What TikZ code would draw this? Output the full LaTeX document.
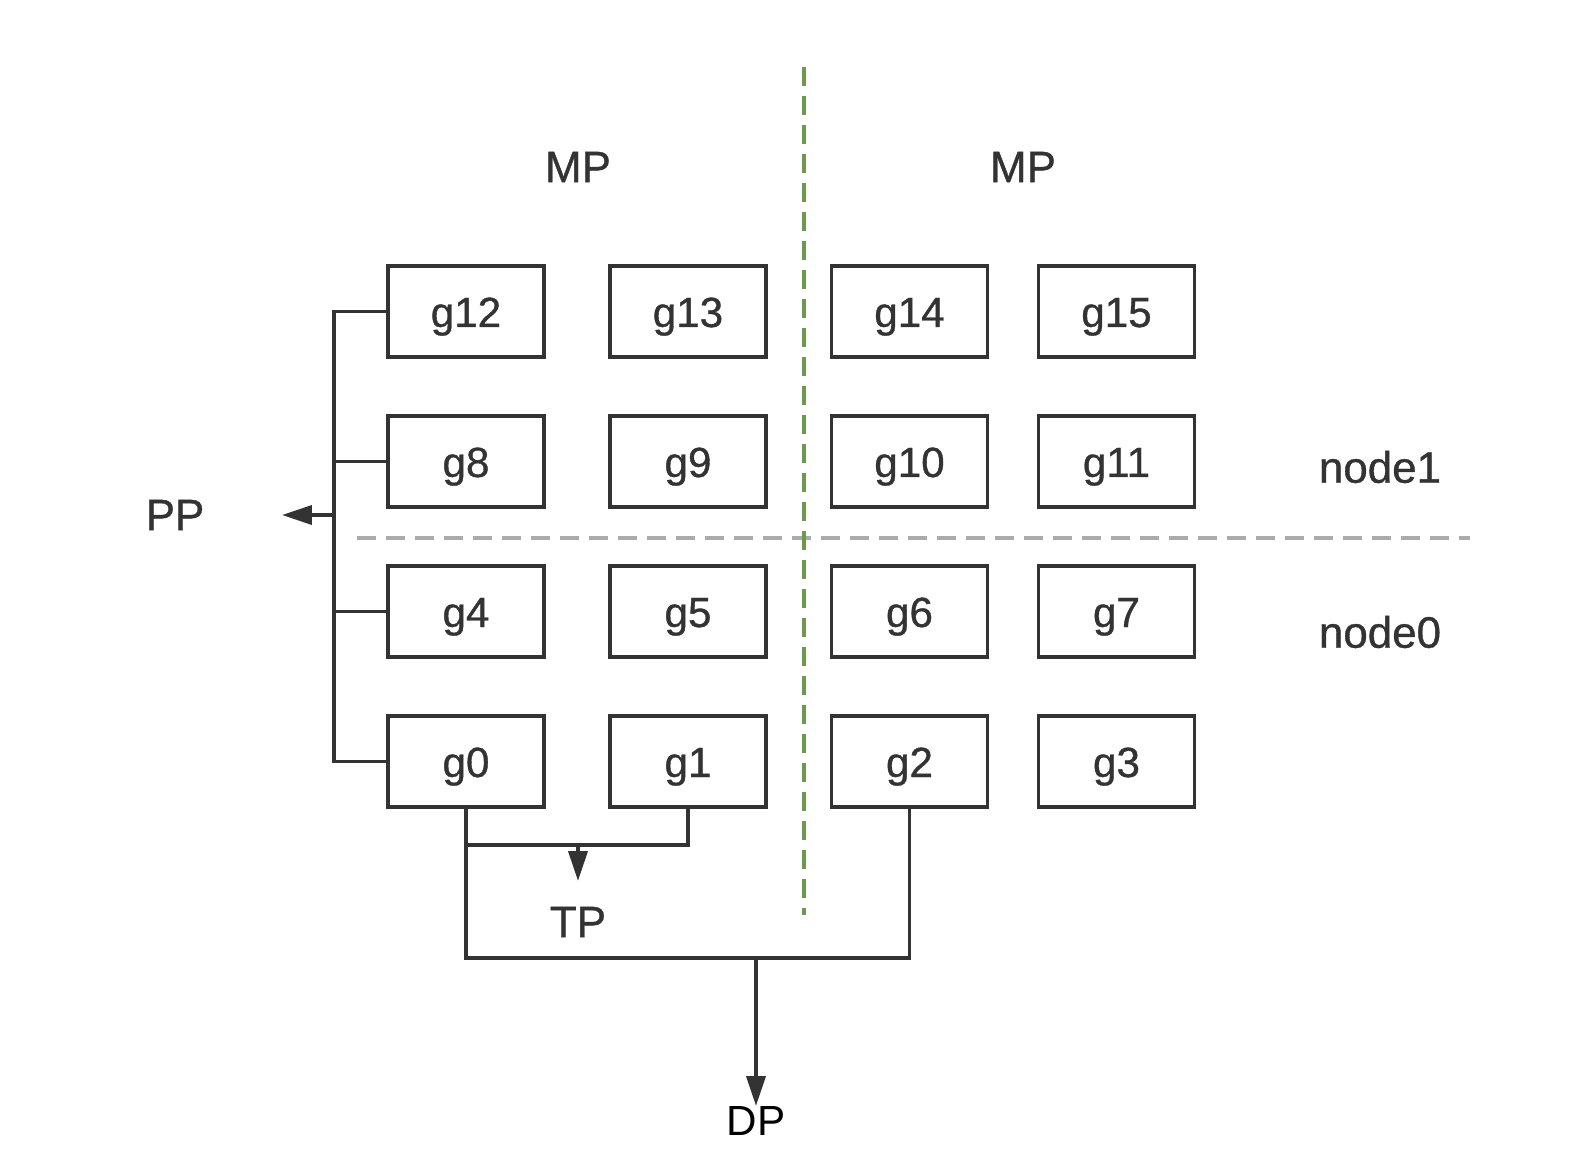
\documentclass[tikz,border=0pt]{standalone}
\usepackage{fontspec}
\setmainfont{Liberation Sans}
\newfontfamily\medfont[FakeBold=0.8]{Liberation Sans}
\usetikzlibrary{arrows.meta}
\definecolor{ink}{HTML}{333333}
\definecolor{dgreen}{HTML}{6B9A4E}
\definecolor{dgray}{HTML}{ABABAB}
\begin{document}
\begin{tikzpicture}[x=0.02cm,y=-0.02cm,
  gbox/.style={draw=ink, line width=2.2pt, minimum width=3.12cm, minimum height=1.82cm, inner sep=0pt, text=ink, text height=0.62cm, text depth=0pt, font=\medfont\fontsize{24}{28}\selectfont},
  lbl/.style={text=ink, inner sep=0pt, font=\medfont\fontsize{25}{30}\selectfont},
  conn/.style={draw=ink, line width=2.2pt},
  tip/.style={-{Triangle[length=0.6cm,width=0.38cm]}},
  sep/.style={line width=2pt, dash pattern=on 11pt off 5.5pt}]
\useasboundingbox (0,0) rectangle (1570,1166);
\fill[white] (0,0) rectangle (1570,1166);
% separators
\coordinate (vsT) at (804,67);
\coordinate (vsB) at (804,915);
\coordinate (hsL) at (357,538);
\coordinate (hsR) at (1470,538);
\draw[sep, draw=dgray] (hsL) -- (hsR);
\draw[sep, draw=dgreen] (vsT) -- (vsB);
% boxes
\node[gbox] (g12) at (466,311.5) {g12};
\node[gbox] (g13) at (688,311.5) {g13};
\node[gbox] (g14) at (909.5,311.5) {g14};
\node[gbox] (g15) at (1116.5,311.5) {g15};
\node[gbox] (g8) at (466,461.5) {g8};
\node[gbox] (g9) at (688,461.5) {g9};
\node[gbox] (g10) at (909.5,461.5) {g10};
\node[gbox] (g11) at (1116.5,461.5) {g11};
\node[gbox] (g4) at (466,611.5) {g4};
\node[gbox] (g5) at (688,611.5) {g5};
\node[gbox] (g6) at (909.5,611.5) {g6};
\node[gbox] (g7) at (1116.5,611.5) {g7};
\node[gbox] (g0) at (466,761.5) {g0};
\node[gbox] (g1) at (688,761.5) {g1};
\node[gbox] (g2) at (909.5,761.5) {g2};
\node[gbox] (g3) at (1116.5,761.5) {g3};
% labels
\node[lbl] (mp1) at (578,167) {MP};
\node[lbl] (mp2) at (1023,167) {MP};
\node[lbl] (n1) at (1380,467) {node1};
\node[lbl] (n0) at (1380,632) {node0};
\node[lbl] (pp) at (175,515) {PP};
\node[lbl] (tp) at (578,922) {TP};
\node[inner sep=0pt, text=black, font=\fontsize{24}{28}\selectfont] (dp) at (756,1121) {DP};
% PP bus
\coordinate (bT) at (334,311.5);
\coordinate (bB) at (334,761.5);
\coordinate (ppS) at (334,515);
\coordinate (ppE) at (282,515);
\draw[conn] (g12.west) -- (bT) -- (bB) -- (g0.west);
\draw[conn] (g8.west) -- (g8.west -| bT);
\draw[conn] (g4.west) -- (g4.west -| bT);
\draw[conn, tip] (ppS) -- (ppE);
% TP
\coordinate (tpL) at (466,845);
\coordinate (tpS) at (578,845);
\coordinate (tpE) at (578,881);
\draw[conn] (g1.south) |- (tpL);
\draw[conn, tip] (tpS) -- (tpE);
% DP
\coordinate (dpJ) at (756,958);
\coordinate (dpE) at (756,1106);
\draw[conn] (g0.south) |- (dpJ) -| (g2.south);
\draw[conn, tip] (dpJ) -- (dpE);
\end{tikzpicture}
\end{document}
